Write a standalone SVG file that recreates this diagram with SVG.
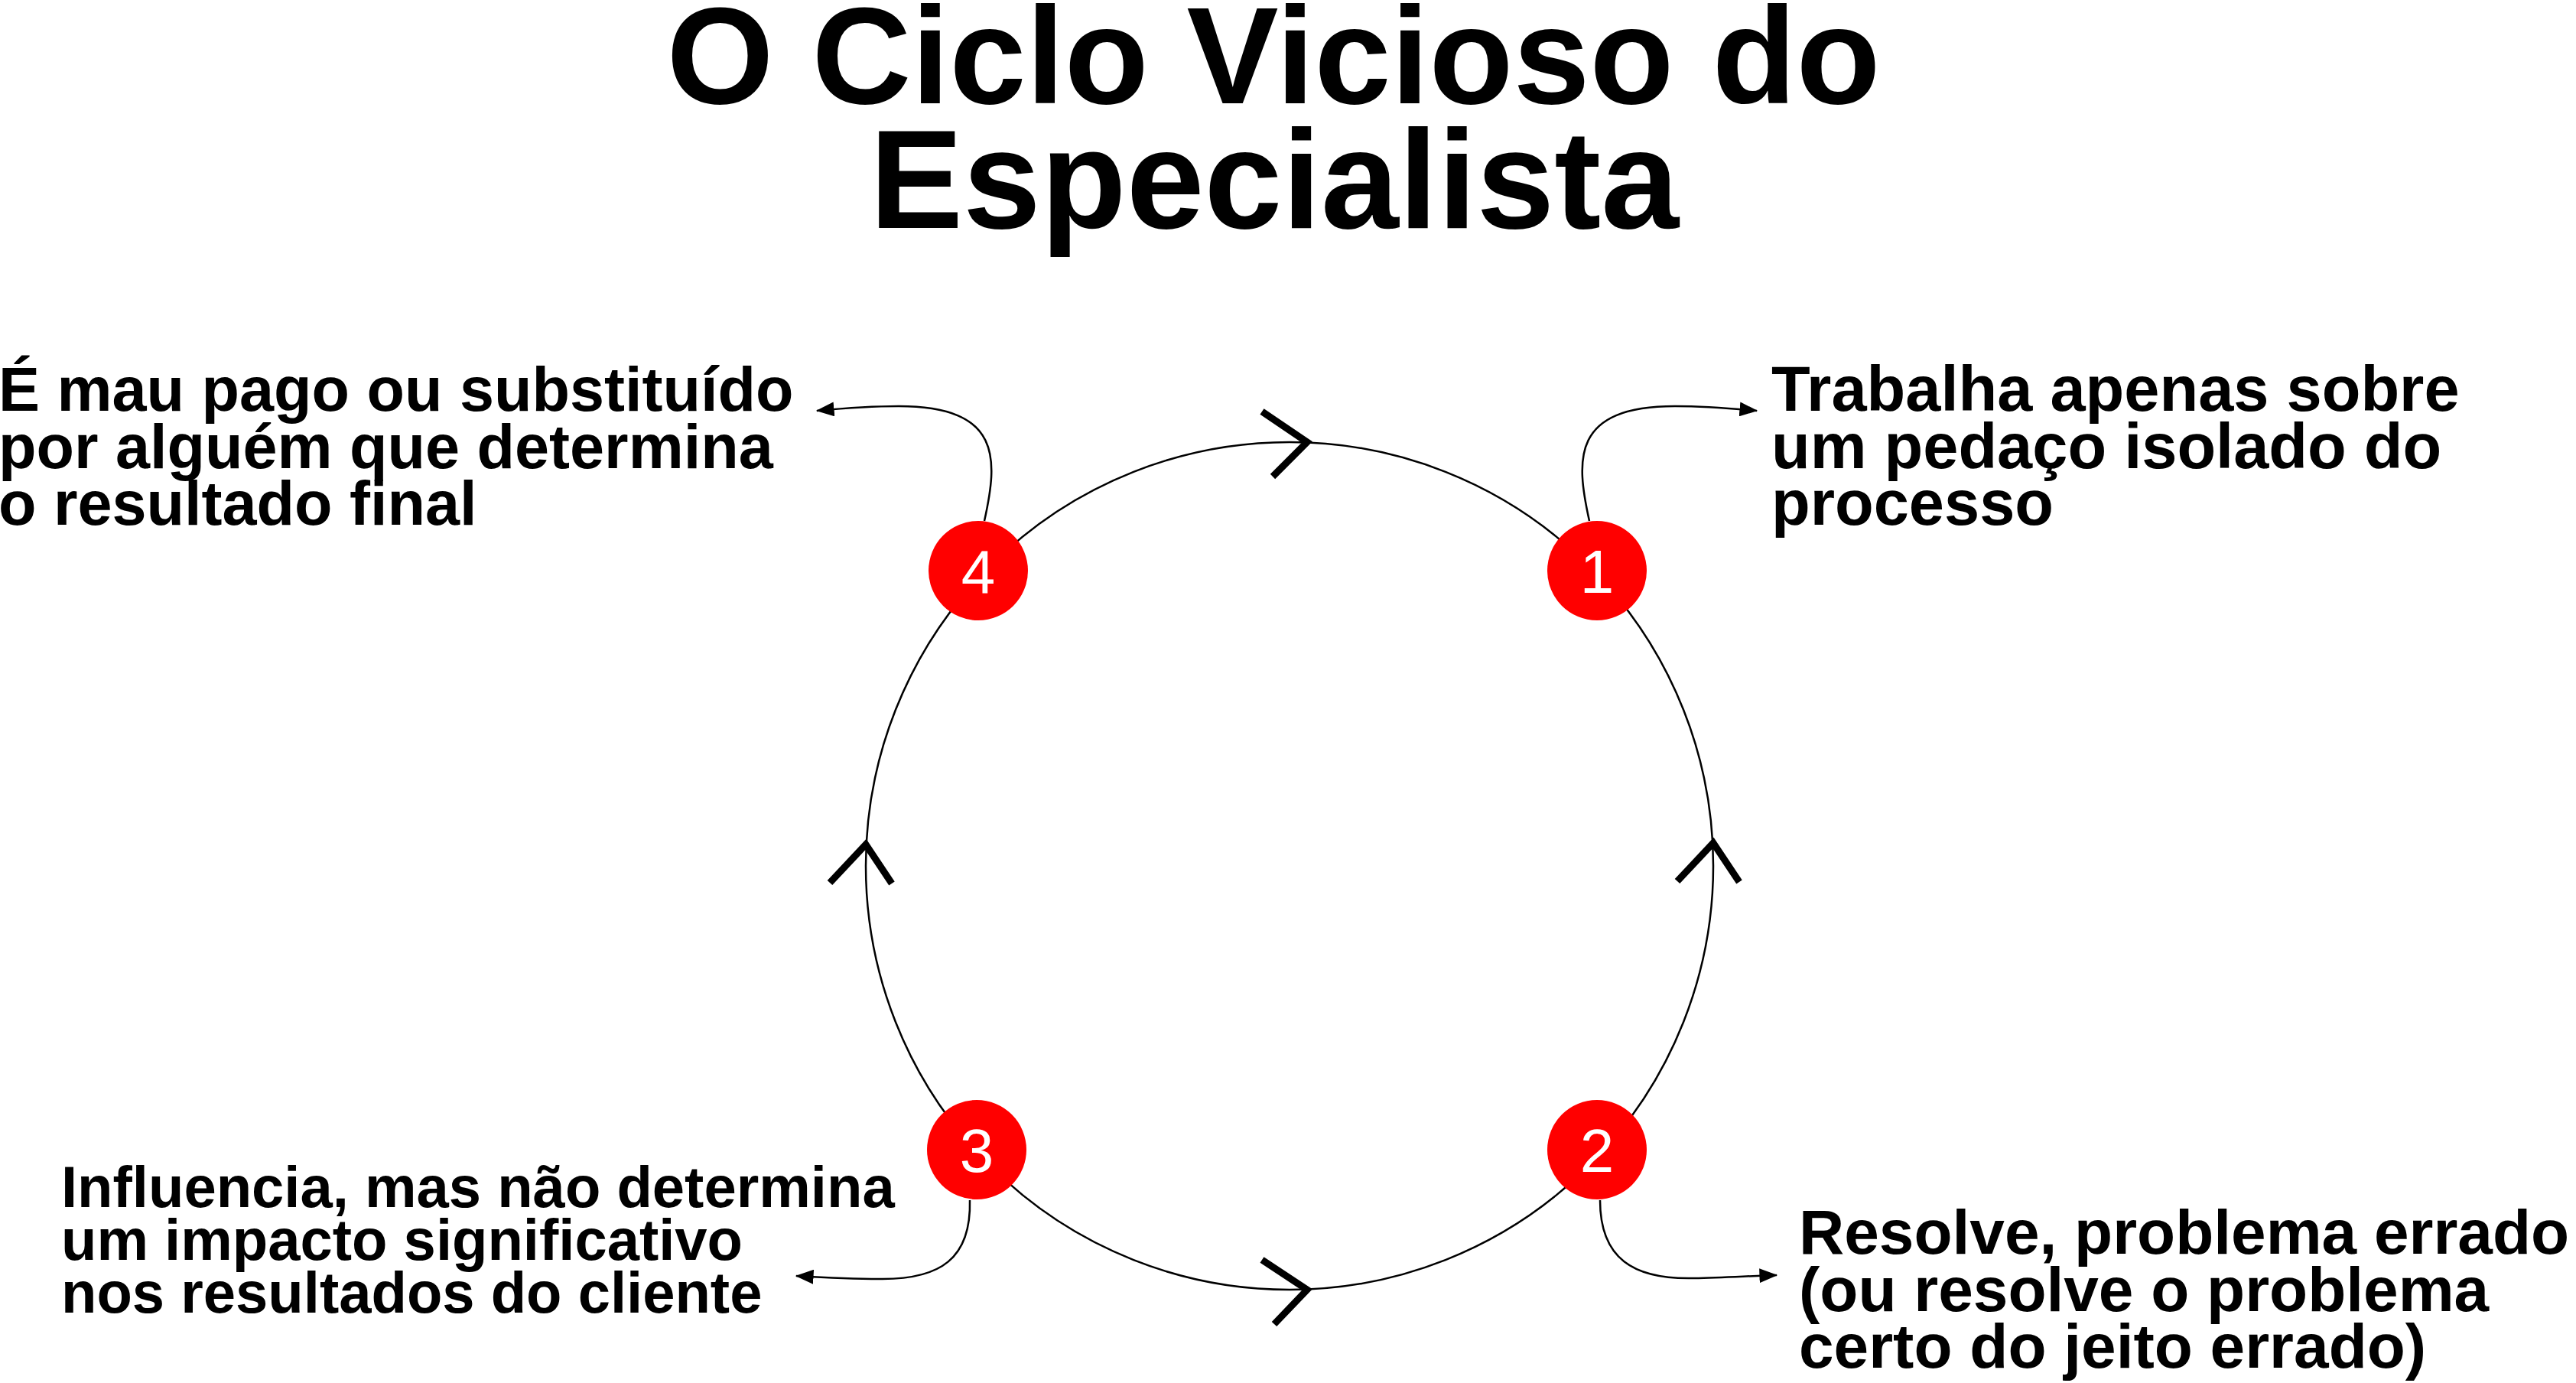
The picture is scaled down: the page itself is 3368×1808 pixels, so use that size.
<svg xmlns="http://www.w3.org/2000/svg" width="3368" height="1808" viewBox="0 0 3368 1808">
<style>
.title{font-family:"Liberation Sans",Arial,sans-serif;font-weight:bold;font-size:180px;fill:#000;text-anchor:middle}
.lbl{font-family:"Liberation Sans",Arial,sans-serif;font-weight:bold;font-size:82px;fill:#000}
.lbl3{font-family:"Liberation Sans",Arial,sans-serif;font-weight:bold;font-size:76px;fill:#000}
.num{font-family:"Liberation Sans",Arial,sans-serif;font-size:80px;fill:#fff;text-anchor:middle}
.ring{fill:none;stroke:#000;stroke-width:2.5}
.chev{fill:none;stroke:#000;stroke-width:9;stroke-linejoin:miter;stroke-miterlimit:10}
.lead{fill:none;stroke:#000;stroke-width:2.5;marker-end:url(#ah)}
.dot{fill:#ff0000}
</style>
<defs>
<marker id="ah" viewBox="0 0 20 16" refX="19" refY="8" markerWidth="24" markerHeight="19" markerUnits="userSpaceOnUse" orient="auto">
<path d="M0,0 L20,8 L0,16 z" fill="#000"/>
</marker>
</defs>
<rect width="3368" height="1808" fill="#fff"/>
<g id="title">
<text class="title" x="1665" y="135">O Ciclo Vicioso do</text>
<text class="title" x="1666" y="298" style="font-size:183px">Especialista</text>
</g>
<g id="connectors">
<circle class="ring" cx="1686" cy="1132" r="554"/>
<polyline class="chev" points="1650,538 1709,578 1664,623"/>
<polyline class="chev" points="1650,1647 1709,1686 1666,1731"/>
<polyline class="chev" points="1085,1154 1132,1104 1166,1155"/>
<polyline class="chev" points="2193,1152 2240,1102 2274,1153"/>
<path class="lead" d="M2078,681 C2060,600 2055,531 2190,531 C2230,531 2265,534 2297,537"/>
<path class="lead" d="M1287,681 C1305,600 1310,531 1175,531 C1135,531 1100,534 1068,537"/>
<path class="lead" d="M1268,1569 C1270,1645 1230,1673 1150,1672 C1110,1672 1075,1670 1041,1668"/>
<path class="lead" d="M2092,1569 C2092,1645 2135,1673 2215,1671 C2255,1670 2290,1668 2323,1667"/>
</g>
<g id="node1">
<circle class="dot" cx="2088" cy="746" r="65"/>
<text class="num" x="2088" y="775">1</text>
</g>
<g id="node2">
<circle class="dot" cx="2088" cy="1503" r="65"/>
<text class="num" x="2088" y="1532">2</text>
</g>
<g id="node3">
<circle class="dot" cx="1277" cy="1503" r="65"/>
<text class="num" x="1277" y="1532">3</text>
</g>
<g id="node4">
<circle class="dot" cx="1279" cy="746" r="65"/>
<text class="num" x="1279" y="775">4</text>
</g>
<g id="label1">
<text class="lbl" x="2316" y="537" style="font-size:83px">Trabalha apenas sobre</text>
<text class="lbl" x="2316" y="612" style="font-size:83px">um pedaço isolado do</text>
<text class="lbl" x="2316" y="686" style="font-size:83px">processo</text>
</g>
<g id="label2">
<text class="lbl" x="2352" y="1639">Resolve, problema errado</text>
<text class="lbl" x="2352" y="1714">(ou resolve o problema</text>
<text class="lbl" x="2352" y="1788">certo do jeito errado)</text>
</g>
<g id="label3">
<text class="lbl3" x="80" y="1578">Influencia, mas não determina</text>
<text class="lbl3" x="80" y="1647">um impacto significativo</text>
<text class="lbl3" x="80" y="1716">nos resultados do cliente</text>
</g>
<g id="label4">
<text class="lbl" x="-2" y="537" style="font-size:81px">É mau pago ou substituído</text>
<text class="lbl" x="-2" y="612" style="font-size:81px">por alguém que determina</text>
<text class="lbl" x="-2" y="686" style="font-size:81px">o resultado final</text>
</g>
</svg>
